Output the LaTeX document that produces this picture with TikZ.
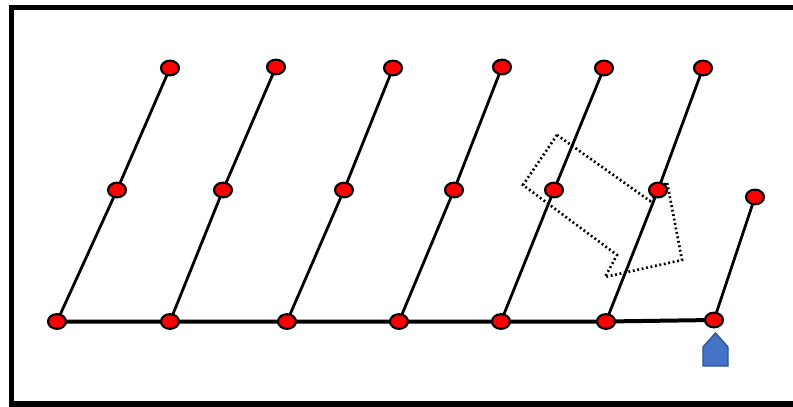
\documentclass[tikz,border=0pt]{standalone}
\usetikzlibrary{shapes.geometric}
\begin{document}
\begin{tikzpicture}[x=0.75pt,y=-0.75pt,
  vtx/.style={ellipse,draw=black,fill=red,line width=1.6pt,minimum width=13.5pt,minimum height=11pt,inner sep=0pt},
  link/.style={line width=2.1pt},
  base/.style={line width=3pt},
  frame/.style={line width=3.8pt},
  dotarrow/.style={line width=2pt,dash pattern=on 1.4pt off 2pt}]
\useasboundingbox (0,0) rectangle (793,407);
\clip (0,0) rectangle (793,407);
\draw[frame] (800,7.5) -- (11.5,7.5) -- (11.5,404) -- (800,404);
% nodes
\foreach \n/\x/\y in {b1/57/321.5,b2/170/321.5,b3/287/321.5,b4/399/321.5,b5/501/321.5,b6/606/321.5,b7/714/320,
  m1/117/190,m2/223/190,m3/344/190,m4/454/190,m5/554/190,m6/658/190,
  t1/170/68,t2/276/67,t3/393/68,t4/502/67,t5/604/68,t6/703/68,e7/755/197}
  \coordinate (\n) at (\x,\y);
\draw[base] (b1) -- (b6) -- (b7);
\foreach \i in {1,...,6} \draw[link] (b\i) -- (m\i) -- (t\i);
\draw[link] (b7) -- (e7);
% dotted block arrow
\draw[dotarrow] (557,135) -- (523,185) -- (617,255) -- (605,277) -- (682,260) -- (667,182) -- (650,201) -- cycle;
\foreach \n in {b1,b2,b3,b4,b5,b6,b7,m1,m2,m3,m4,m5,m6,t1,t2,t3,t4,t5,t6,e7}
  \node[vtx] (n\n) at (\n) {};
% blue pentagon
\draw[fill={rgb,255:red,68;green,114;blue,196},draw={rgb,255:red,47;green,82;blue,143},line width=1pt]
  (703,366) -- (728,366) -- (728,347) -- (715.5,333) -- (703,347) -- cycle;
\end{tikzpicture}
\end{document}
